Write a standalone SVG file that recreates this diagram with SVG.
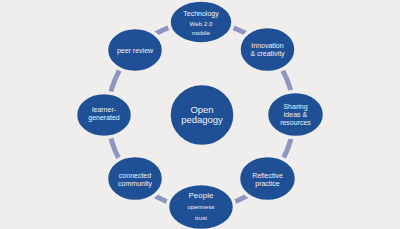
<svg xmlns="http://www.w3.org/2000/svg" width="400" height="229" viewBox="0 0 400 229">
<style>
.n{fill:#1f4f95;stroke:#efeeec;stroke-width:3.5}
.c{fill:none;stroke:#8e95c3;stroke-width:5}
text{font-family:"Liberation Sans",Arial,sans-serif;fill:#eef1f8;text-anchor:middle;font-size:7px}
.s{font-size:6.2px}
.b{font-size:9.5px}
.m{font-size:8px}
</style>
<rect width="400" height="229" fill="#efeeec"/>
<g id="connectors">
<path class="c" d="M201 22 A93 93 0 0 1 266.8 49.2"/>
<path class="c" d="M266.8 49.2 A93 93 0 0 1 294 115"/>
<path class="c" d="M294 115 A93 93 0 0 1 266.8 180.8"/>
<path class="c" d="M266.8 180.8 A93 93 0 0 1 201 208"/>
<path class="c" d="M201 208 A93 93 0 0 1 135.2 180.8"/>
<path class="c" d="M135.2 180.8 A93 93 0 0 1 108 115"/>
<path class="c" d="M108 115 A93 93 0 0 1 135.2 49.2"/>
<path class="c" d="M135.2 49.2 A93 93 0 0 1 201 22"/>
</g>
<g id="technology"><ellipse class="n" cx="201" cy="22" rx="32" ry="22"/><text x="201" y="15.5">Technology</text><text class="s" x="201" y="26">Web 2.0</text><text class="s" x="201" y="35">mobile</text></g>
<g id="innovation"><ellipse class="n" cx="267.5" cy="49.5" rx="28.5" ry="23"/><text x="267.5" y="48">Innovation</text><text x="267.5" y="56">&amp; creativity</text></g>
<g id="sharing"><ellipse class="n" cx="295.5" cy="114.5" rx="29" ry="23"/><text x="295.5" y="109">Sharing</text><text x="295.5" y="116.8">ideas &amp;</text><text x="295.5" y="124.5">resources</text></g>
<g id="reflective"><ellipse class="n" cx="267.5" cy="178.5" rx="29" ry="23"/><text x="267.5" y="177.5">Reflective</text><text x="267.5" y="186">practice</text></g>
<g id="people"><ellipse class="n" cx="201" cy="207" rx="33.5" ry="23.5"/><text class="m" x="201" y="198">People</text><text class="s" x="201" y="209">openness</text><text class="s" x="201" y="219.5">trust</text></g>
<g id="community"><ellipse class="n" cx="135" cy="178.5" rx="28.5" ry="23"/><text x="135" y="177.5">connected</text><text x="135" y="185.5">community</text></g>
<g id="learner"><ellipse class="n" cx="104" cy="115" rx="28.5" ry="22.5"/><text x="104" y="111.5">learner-</text><text x="104" y="120">generated</text></g>
<g id="peer"><ellipse class="n" cx="135" cy="50" rx="28.5" ry="22.5"/><text x="135" y="52.5">peer review</text></g>
<g id="open"><ellipse class="n" cx="202" cy="115" rx="33" ry="31.5"/><text class="b" x="202" y="112.5">Open</text><text class="b" x="202" y="123">pedagogy</text></g>
</svg>
